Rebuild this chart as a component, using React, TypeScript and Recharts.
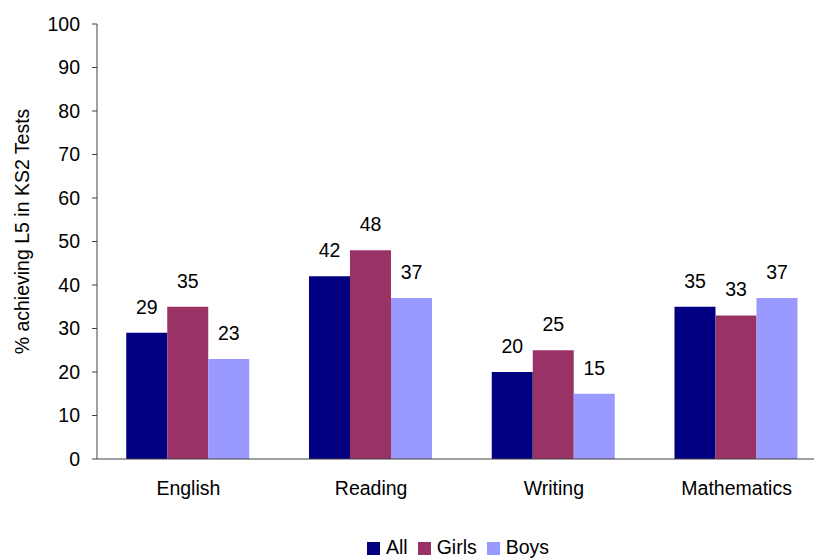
import React from 'react';
import { BarChart, Bar, XAxis, YAxis, LabelList, Legend, Label } from 'recharts';

const categories = ['English', 'Reading', 'Writing', 'Mathematics'];
const allValues = [29, 42, 20, 35];
const girlsValues = [35, 48, 25, 33];
const boysValues = [23, 37, 15, 37];
const yTicks = [0, 10, 20, 30, 40, 50, 60, 70, 80, 90, 100];
const edgeTicks = [0, 1, 2, 3, 4];
const yTitle = '% achieving L5 in KS2 Tests';

const seriesNames = ['All', 'Girls', 'Boys'];
const seriesColors = ['#000080', '#993366', '#9999FF'];

const data = categories.map((c, i) => ({
  name: c,
  All: allValues[i],
  Girls: girlsValues[i],
  Boys: boysValues[i],
}));

const FONT = "'Liberation Sans', Arial, sans-serif";
const FS = 19.5;
const AXIS = '#404040';

const LegendContent = () => (
  <div style={{ width: 830, height: 30, position: 'relative', fontFamily: FONT }}>
    <div style={{ position: 'absolute', left: 367, top: 8, display: 'flex', alignItems: 'center', lineHeight: '20px', fontSize: FS, color: '#000' }}>
      {seriesNames.map((n, i) => (
        <div key={n} style={{ display: 'flex', alignItems: 'center', marginRight: i < seriesNames.length - 1 ? 10 : 0 }}>
          <div style={{ width: 13, height: 13, background: seriesColors[i], marginRight: 6, marginTop: 3 }} />
          <span>{n}</span>
        </div>
      ))}
    </div>
  </div>
);

const YTitle = (props: any) => {
  const vb = props.viewBox || { x: 0, y: 0, width: 0, height: 0 };
  const cx = vb.x + 22;
  const cy = vb.y + vb.height / 2 - 10;
  return (
    <text
      x={cx}
      y={cy}
      transform={`rotate(-90, ${cx}, ${cy})`}
      textAnchor="middle"
      dominantBaseline="central"
      fontSize={FS}
      fontFamily={FONT}
      fill="#000"
    >
      {yTitle}
    </text>
  );
};

export default function App() {
  return (
    <div style={{ position: 'fixed', left: 0, top: 0, width: 814, height: 559, overflow: 'hidden', background: '#fff' }}>
      <BarChart
        width={830}
        height={559}
        data={data}
        margin={{ top: 24, right: 2, bottom: 0, left: 0 }}
        barCategoryGap="16%"
        barGap={0}
        style={{ fontFamily: FONT }}
      >
        <XAxis
          xAxisId="edges"
          type="number"
          domain={[0, 4]}
          ticks={edgeTicks}
          tick={false}
          axisLine={false}
          tickLine={{ stroke: AXIS }}
          tickSize={5}
          height={0}
          allowDataOverflow
        />
        <XAxis
          dataKey="name"
          axisLine={{ stroke: AXIS }}
          tickLine={false}
          tickSize={6}
          tickMargin={16}
          height={70}
          interval={0}
          tick={{ fill: '#000', fontSize: FS, fontFamily: FONT }}
        />
        <YAxis
          width={97}
          domain={[0, 100]}
          ticks={yTicks}
          interval={0}
          axisLine={{ stroke: AXIS }}
          tickLine={{ stroke: AXIS }}
          tickSize={5}
          tickMargin={12}
          tick={{ fill: '#000', fontSize: FS, fontFamily: FONT }}
        >
          <Label value={yTitle} content={<YTitle />} />
        </YAxis>
        <Legend verticalAlign="bottom" content={<LegendContent />} wrapperStyle={{ left: 0, width: 830 }} />
        {seriesNames.map((n, i) => (
          <Bar key={n} dataKey={n} fill={seriesColors[i]} isAnimationActive={false}>
            <LabelList dataKey={n} position="top" offset={19} fill="#000" fontSize={FS} fontFamily={FONT} />
          </Bar>
        ))}
      </BarChart>
    </div>
  );
}
